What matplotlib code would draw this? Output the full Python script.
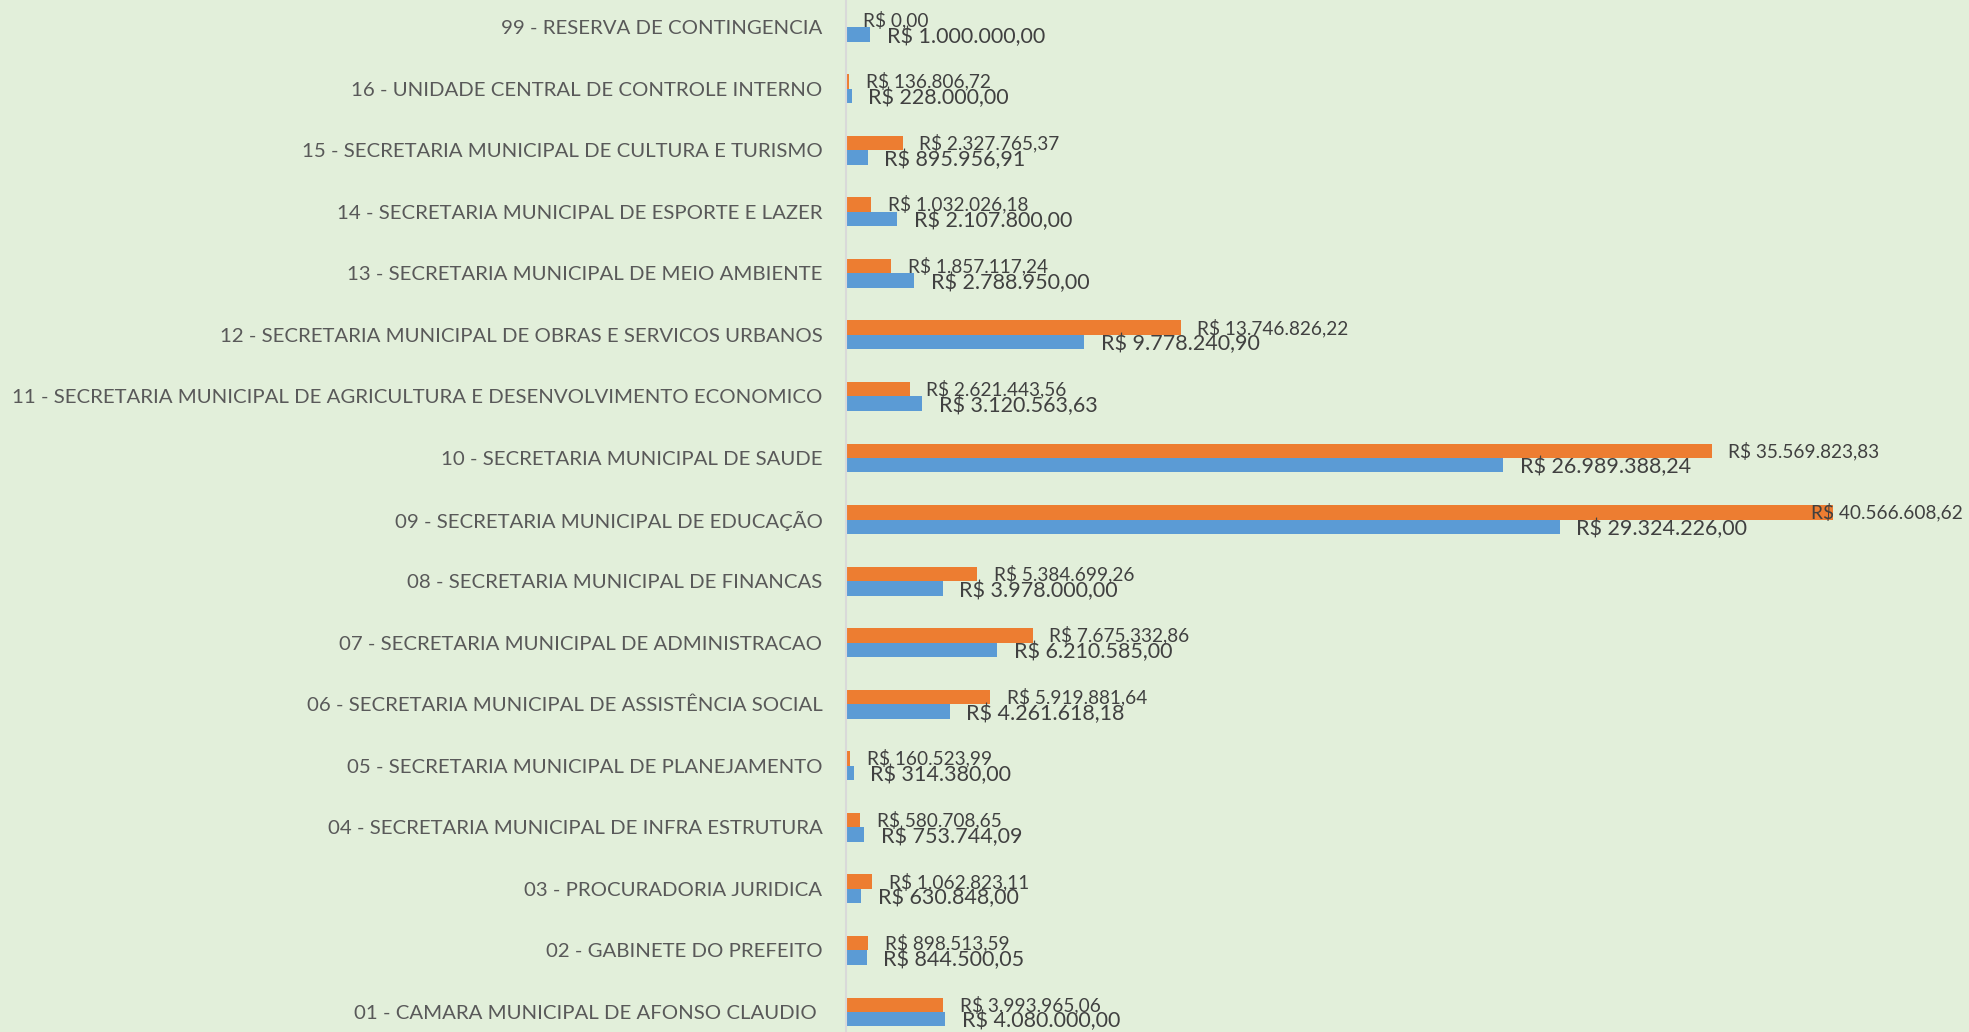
import matplotlib
matplotlib.use('Agg')
import matplotlib.pyplot as plt
import numpy as np

categories = [
    "01 - CAMARA MUNICIPAL DE AFONSO CLAUDIO ",
    "02 - GABINETE DO PREFEITO",
    "03 - PROCURADORIA JURIDICA",
    "04 - SECRETARIA MUNICIPAL DE INFRA ESTRUTURA",
    "05 - SECRETARIA MUNICIPAL DE PLANEJAMENTO",
    "06 - SECRETARIA MUNICIPAL DE ASSISTÊNCIA SOCIAL",
    "07 - SECRETARIA MUNICIPAL DE ADMINISTRACAO",
    "08 - SECRETARIA MUNICIPAL DE FINANCAS",
    "09 - SECRETARIA MUNICIPAL DE EDUCAÇÃO",
    "10 - SECRETARIA MUNICIPAL DE SAUDE",
    "11 - SECRETARIA MUNICIPAL DE AGRICULTURA E DESENVOLVIMENTO ECONOMICO",
    "12 - SECRETARIA MUNICIPAL DE OBRAS E SERVICOS URBANOS",
    "13 - SECRETARIA MUNICIPAL DE MEIO AMBIENTE",
    "14 - SECRETARIA MUNICIPAL DE ESPORTE E LAZER",
    "15 - SECRETARIA MUNICIPAL DE CULTURA E TURISMO",
    "16 - UNIDADE CENTRAL DE CONTROLE INTERNO",
    "99 - RESERVA DE CONTINGENCIA",
]

orange_values = [3993965.06, 898513.59, 1062823.11, 580708.65, 160523.99,
                 5919881.64, 7675332.86, 5384699.26, 40566608.62, 35569823.83,
                 2621443.56, 13746826.22, 1857117.24, 1032026.18, 2327765.37,
                 136806.72, 0.00]
blue_values = [4080000.00, 844500.05, 630848.00, 753744.09, 314380.00,
               4261618.18, 6210585.00, 3978000.00, 29324226.00, 26989388.24,
               3120563.63, 9778240.90, 2788950.00, 2107800.00, 895956.91,
               228000.00, 1000000.00]

BG = '#E2EFDA'
ORANGE = '#ED7D31'
BLUE = '#5B9BD5'
plt.rcParams['font.family'] = ['Lato', 'DejaVu Sans']


def brl(v):
    s = f"{v:,.2f}".replace(',', 'X').replace('.', ',').replace('X', '.')
    return "R$ " + s


W, H, DPI = 1969, 1032, 100
fig = plt.figure(figsize=(W / DPI, H / DPI), dpi=DPI, facecolor=BG)
ax = fig.add_axes([846 / W, 0, 1 - 846 / W, 1])
ax.set_facecolor(BG)

y = np.arange(len(categories))
h = 0.235
ax.barh(y + h / 2, orange_values, height=h, color=ORANGE)
ax.barh(y - h / 2, blue_values, height=h, color=BLUE)

ax.set_xlim(0, 46.14e6)
ax.set_ylim(-0.325, 16.44)
ax.set_yticks(y, categories)
ax.tick_params(axis='y', length=0, pad=17, labelsize=14.65, labelcolor='#595959')
ax.set_xticks([])
for s in ['top', 'right', 'bottom']:
    ax.spines[s].set_visible(False)
ax.spines['left'].set_color('#D9D9D9')
ax.spines['left'].set_linewidth(1.5)

texts = []
for i in range(len(categories)):
    t1 = ax.annotate(brl(orange_values[i]), (orange_values[i], y[i] + h / 2),
                     xytext=(12, 0), textcoords='offset points', va='center',
                     ha='left', fontsize=13.7, color='#404040')
    t2 = ax.annotate(brl(blue_values[i]), (blue_values[i], y[i] - h / 2),
                     xytext=(12, -1.5), textcoords='offset points', va='center',
                     ha='left', fontsize=15.5, color='#404040')
    texts += [t1, t2]

fig.canvas.draw()
renderer = fig.canvas.get_renderer()
for t in texts:
    bb = t.get_window_extent(renderer)
    limit = W - 6
    if bb.x1 > limit:
        dx, dy = t.xyann
        t.xyann = (dx - (bb.x1 - limit) * 72 / DPI, dy)

fig.savefig('out.png', dpi=DPI, facecolor=BG)
